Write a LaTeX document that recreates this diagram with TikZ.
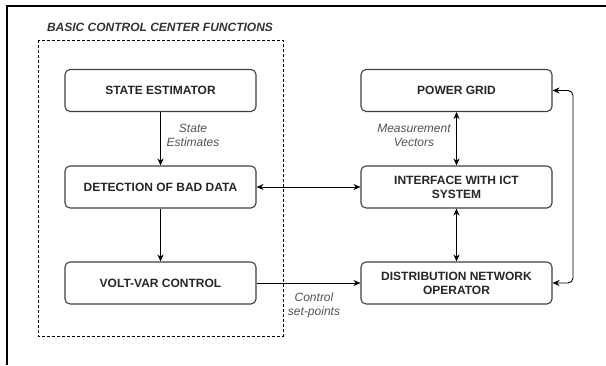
\documentclass[tikz,border=0pt]{standalone}
\usepackage{fontspec}
\setmainfont{Liberation Sans}
\usetikzlibrary{arrows.meta}
\newcommand{\boxcolor}{black!75}
\newcommand{\labelcolor}{black!68}
\newcommand{\thick}{1.1pt}

\tikzset{
  block/.style={draw=\boxcolor, line width=\thick, rounded corners=5pt,
    minimum width=191pt, minimum height=42pt, align=center, inner sep=1pt,
    font=\fontsize{12}{14}\selectfont\bfseries, text=black!85},
  link/.style={line width=0.9pt, -{Stealth[length=7pt,width=6pt]}},
  twoway/.style={line width=0.9pt, {Stealth[length=7pt,width=6pt]}-{Stealth[length=7pt,width=6pt]}},
  note/.style={align=center, inner sep=0pt, font=\fontsize{12}{14}\selectfont\itshape, text=\labelcolor}
}

\begin{document}
\begin{tikzpicture}[x=1pt, y=-1pt]
\useasboundingbox (0,0) rectangle (606,365);
%frame
\draw[line width=1.6pt] (7,365) -- (7,6) -- (606,6);
%control center
\draw[dashed, dash pattern=on 3pt off 2pt, line width=0.8pt] (38,40) rectangle (283,336);
\node[font=\fontsize{12}{13}\selectfont\bfseries\itshape, text=black!80] (title) at (160,27) {BASIC CONTROL CENTER FUNCTIONS};
\node[block] (se) at (160.5,90.5) {STATE ESTIMATOR};
\node[block] (bad) at (160.5,187) {DETECTION OF BAD DATA};
\node[block] (vvc) at (160.5,283) {VOLT-VAR CONTROL};
%field side
\node[block] (grid) at (456.5,90.5) {POWER GRID};
\node[block] (ict) at (456.5,187) {INTERFACE WITH ICT\\SYSTEM};
\node[block] (dno) at (456.5,283) {DISTRIBUTION NETWORK\\OPERATOR};
\coordinate (loop) at (573,90.5);
%arrows
\draw[link] (se) -- (bad);
\draw[link] (bad) -- (vvc);
\draw[twoway] (bad) -- (ict);
\draw[link] (vvc) -- (dno);
\draw[twoway] (grid) -- (ict);
\draw[twoway] (ict) -- (dno);
\draw[twoway, rounded corners=5pt] (dno.east) -| (loop) -- (grid.east);
%labels
\node[note] (seest) at (193,135) {State\\Estimates};
\node[note] (meas) at (414,135) {Measurement\\Vectors};
\node[note] (ctrl) at (314,305) {Control\\set-points};
\end{tikzpicture}
\end{document}
